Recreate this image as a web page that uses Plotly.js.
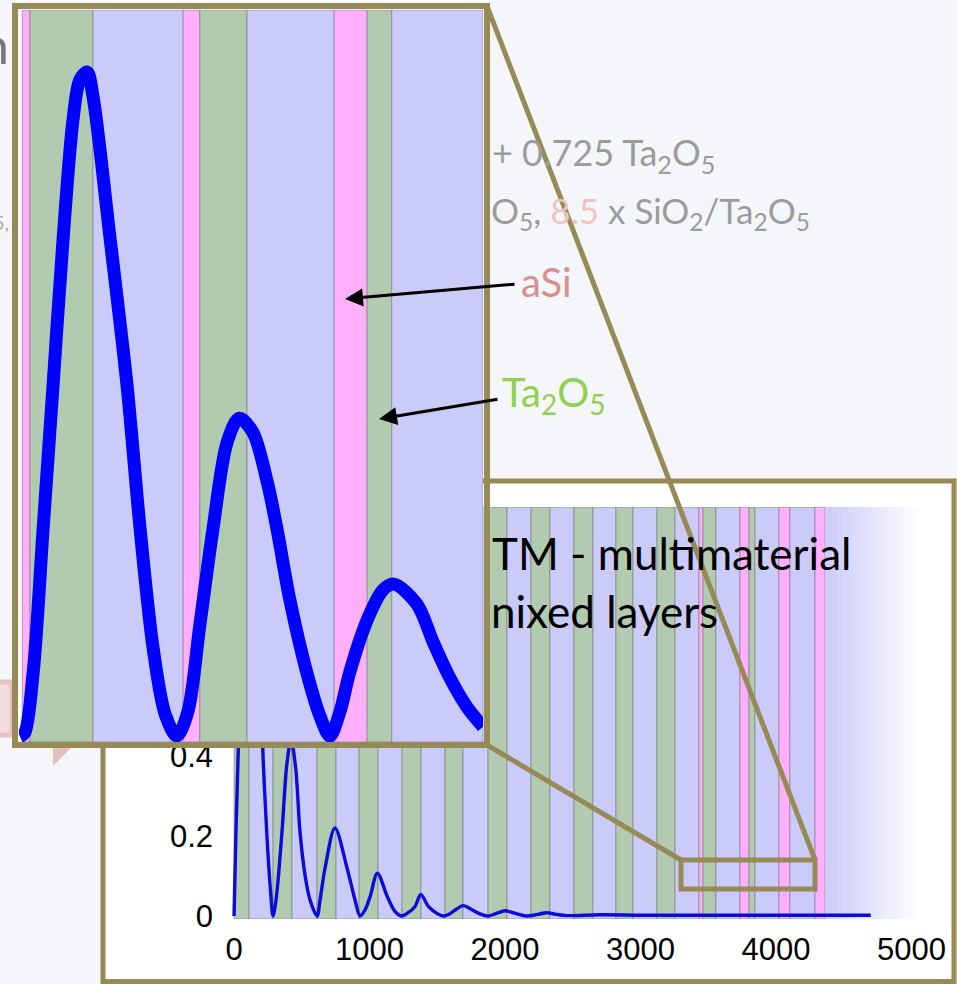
<!DOCTYPE html>
<html>
<head>
<meta charset="utf-8">
<script src="https://cdn.plot.ly/plotly-3.0.1.min.js"></script>
<style>html,body{margin:0;padding:0;background:#f4f6f9;}#chart{width:957px;height:984px;}</style>
</head>
<body>
<div id="chart"></div>
<script>
// ---------- DATA ----------
// Main coating stack: layer i spans layerEdges[i] .. layerEdges[i+1] (depth, nm)
const layerEdges = [0,111,288,428,613,753,923,1063,1240,1380,1557,1690,1875,2015,2192,2332,2509,2649,2819,2945,3122,3255,3432,3461,3557,3734,3801,3845,4022,4103,4288,4362];
const layerMaterial = ['Ta2O5','SiO2','Ta2O5','SiO2','Ta2O5','SiO2','Ta2O5','SiO2','Ta2O5','SiO2','Ta2O5','SiO2','Ta2O5','SiO2','Ta2O5','SiO2','Ta2O5','SiO2','Ta2O5','SiO2','Ta2O5','SiO2','aSi','Ta2O5','SiO2','aSi','Ta2O5','SiO2','aSi','SiO2','aSi'];
const substrateStart = 4362;
const substrateFadeEnd = 5080;

// Main field-intensity curve
const depth = [0,15,30,60,95,125,160,185,214,243,270,288,310,354,390,421,455,487,525,561,613,635,672,745,834,893,930,965,1004,1058,1132,1185,1237,1280,1336,1378,1434,1500,1545,1600,1640,1692,1750,1810,1877,1940,2000,2070,2160,2240,2308,2380,2455,2700,3000,3300,3600,3900,4200,4500,4700];
const intensity = [0,0.22,0.4,0.72,0.93,1.0,0.9,0.72,0.4,0.2,0.06,0,0.04,0.21,0.38,0.44,0.37,0.21,0.1,0.04,0,0.04,0.12,0.22,0.12,0.04,0,0.014,0.048,0.107,0.048,0.013,0,0.007,0.024,0.054,0.024,0.006,0,0.007,0.017,0.026,0.017,0.006,0,0.007,0.013,0.007,0,0.004,0.008,0.004,0.001,0.003,0.002,0.002,0.002,0.002,0.002,0.002,0.002];

// Zoomed inset: layers and curve
const insetEdges = [3413,3428,3548,3720,3752,3842,4008,4071,4118,4292];
const insetMaterial = ['aSi','Ta2O5','SiO2','aSi','Ta2O5','SiO2','aSi','Ta2O5','SiO2'];
const insetDepth = [3409,3418,3434,3453,3472,3491,3510,3523,3537,3548,3581,3613,3638,3663,3686,3708,3729,3752,3777,3804,3827,3853,3880,3899,3924,3956,3981,4000,4019,4038,4071,4101,4122,4166,4197,4229,4261,4292];
const insetValue = [0.002,0.008,0.098,0.314,0.53,0.748,0.928,0.988,1.0,0.964,0.748,0.53,0.314,0.134,0.035,0.003,0.039,0.17,0.314,0.444,0.48,0.459,0.386,0.314,0.206,0.098,0.033,0.003,0.039,0.099,0.177,0.222,0.231,0.201,0.144,0.09,0.047,0.017];

const xTicks = [0,1000,2000,3000,4000,5000];
const yTicks = [0,0.2,0.4,0.6,0.8,1];
const yTickText = ['0','0.2','0.4','0.6','0.8','1'];

// ---------- STYLE ----------
const W = 957, H = 984;
const px = v => v / W;
const py = v => 1 - v / H;
const matColor = {Ta2O5:'#b1cab0', SiO2:'#cbcbf9', aSi:'#ffaffb'};
const olive = '#968b57';
const bandLine = {color:'rgba(115,115,115,0.55)', width:1};

const mainX = [-15, 5100], mainY = [-0.0075, 1.0225];
const insX = [3407, 4292], insY = [-0.006, 1.093];

const shapes = [];
// faint slide decorations (left)
shapes.push({type:'rect', xref:'paper', yref:'paper', x0:px(-6), x1:px(12), y0:py(682), y1:py(735), fillcolor:'#f3dede', line:{color:'#e8c0c0', width:5}, layer:'below'});
shapes.push({type:'path', xref:'paper', yref:'paper', path:`M ${px(53)} ${py(748)} L ${px(71)} ${py(748)} L ${px(53)} ${py(766)} Z`, fillcolor:'#e6bfbf', line:{width:0}, layer:'below'});
// main chart frame
shapes.push({type:'rect', xref:'paper', yref:'paper', x0:px(103), x1:px(954), y0:py(481), y1:py(981.5), fillcolor:'#ffffff', line:{color:olive, width:5}, layer:'below'});
// main bands
for (let i = 0; i < layerMaterial.length; i++) {
  shapes.push({type:'rect', xref:'x', yref:'y', x0:layerEdges[i], x1:layerEdges[i+1], y0:mainY[0], y1:mainY[1], fillcolor:matColor[layerMaterial[i]], line:bandLine, layer:'below'});
}
// substrate fade
const N = 40;
for (let k = 0; k < N; k++) {
  const t = k / (N - 1);
  const r = Math.round(203 + (255-203)*t), g = Math.round(203 + (255-203)*t), b = Math.round(249 + (255-249)*t);
  const x0 = substrateStart + (substrateFadeEnd - substrateStart) * k / N;
  const x1 = substrateStart + (substrateFadeEnd - substrateStart) * (k+1) / N + 2;
  shapes.push({type:'rect', xref:'x', yref:'y', x0:x0, x1:x1, y0:mainY[0], y1:mainY[1], fillcolor:`rgb(${r},${g},${b})`, line:{width:0}, layer:'below'});
}
// inset bands
for (let i = 0; i < insetMaterial.length; i++) {
  shapes.push({type:'rect', xref:'x2', yref:'y2', x0:insetEdges[i], x1:insetEdges[i+1], y0:insY[0], y1:insY[1], fillcolor:matColor[insetMaterial[i]], line:bandLine, layer:'below'});
}
// inset border, zoom box, connectors
shapes.push({type:'rect', xref:'paper', yref:'paper', x0:px(15), x1:px(487), y0:py(6), y1:py(745), line:{color:olive, width:6}, layer:'above'});
shapes.push({type:'rect', xref:'paper', yref:'paper', x0:px(681), x1:px(815), y0:py(860), y1:py(889), line:{color:olive, width:5}, layer:'above'});
shapes.push({type:'line', xref:'paper', yref:'paper', x0:px(487), y0:py(6), x1:px(815), y1:py(860), line:{color:olive, width:5}, layer:'above'});
shapes.push({type:'line', xref:'paper', yref:'paper', x0:px(487), y0:py(745), x1:px(681), y1:py(860), line:{color:olive, width:5}, layer:'above'});

const gray = '#9c9c9c';
const slideFont = 'Lato, "Open Sans", sans-serif';
const annotations = [
  {text:'TM - multimaterial', x:px(490), y:py(553), xanchor:'left', yanchor:'middle', font:{family:slideFont, size:44, color:'#000'}},
  {text:'nixed layers', x:px(489), y:py(611), xanchor:'left', yanchor:'middle', font:{family:slideFont, size:44, color:'#000'}},
  {text:'+ 0.725 Ta<sub>2</sub>O<sub>5</sub>', x:px(490), y:py(155), xanchor:'left', yanchor:'middle', font:{family:slideFont, size:36, color:gray}},
  {text:'O<sub>5</sub>, <span style="color:#f0c2c2">8.5</span> x SiO<sub>2</sub>/Ta<sub>2</sub>O<sub>5</sub>', x:px(489), y:py(213), xanchor:'left', yanchor:'middle', font:{family:slideFont, size:35, color:gray}},
  {text:'aSi', x:px(519), y:py(282), xanchor:'left', yanchor:'middle', font:{family:slideFont, size:40, color:'#da8e8e'}},
  {text:'Ta<sub>2</sub>O<sub>5</sub>', x:px(500), y:py(395), xanchor:'left', yanchor:'middle', font:{family:slideFont, size:40, color:'#92d050'}},
  {text:'', x:px(345), y:py(299), showarrow:true, ax:516-345, ay:284-299, arrowhead:2, arrowsize:1.2, arrowwidth:3, arrowcolor:'#000'},
  {text:'', x:px(379), y:py(419), showarrow:true, ax:499-379, ay:399-419, arrowhead:2, arrowsize:1.2, arrowwidth:3, arrowcolor:'#000'},
  {text:'n', x:px(11), y:py(45), xanchor:'right', yanchor:'middle', font:{family:slideFont, size:50, color:'#777'}},
  {text:'5,', x:px(11), y:py(222), xanchor:'right', yanchor:'middle', font:{family:slideFont, size:20, color:'#aaa'}}
];
annotations.forEach(a => { a.xref = 'paper'; a.yref = 'paper'; if (!a.showarrow) a.showarrow = false; });

const traces = [
  {x:depth, y:intensity, xaxis:'x', yaxis:'y', mode:'lines', line:{color:'#0c0cda', width:3.4, shape:'spline', smoothing:0.9}, hoverinfo:'skip'},
  {x:insetDepth, y:insetValue, xaxis:'x2', yaxis:'y2', mode:'lines', line:{color:'#0000ff', width:13, shape:'spline', smoothing:0.9}, hoverinfo:'skip'}
];

const tickFont = {family:'"Liberation Sans", Arial, sans-serif', size:31, color:'#000'};
const layout = {
  width:W, height:H, autosize:false, showlegend:false,
  margin:{l:0, r:0, t:0, b:0},
  paper_bgcolor:'#f4f6f9', plot_bgcolor:'#ffffff',
  xaxis:{domain:[px(232), px(925)], range:mainX, tickvals:xTicks, ticktext:xTicks.map(String), showgrid:false, zeroline:false, showline:false, ticks:'', ticklabelstandoff:9, tickfont:tickFont, fixedrange:true},
  yaxis:{domain:[py(919), py(507)], range:mainY, tickvals:yTicks, ticktext:yTickText, showgrid:false, zeroline:false, showline:false, ticks:'', ticklabelstandoff:18, tickfont:tickFont, fixedrange:true},
  xaxis2:{domain:[px(19), px(483)], range:insX, anchor:'y2', visible:false, fixedrange:true},
  yaxis2:{domain:[py(742), py(10)], range:insY, anchor:'x2', visible:false, fixedrange:true},
  shapes:shapes,
  annotations:annotations
};

Plotly.newPlot('chart', traces, layout, {displayModeBar:false, staticPlot:true});
</script>
</body>
</html>
